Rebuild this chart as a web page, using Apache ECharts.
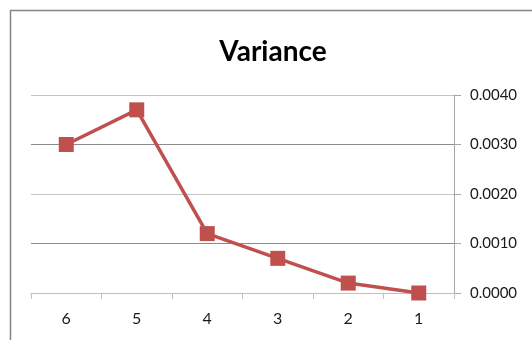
<!DOCTYPE html>
<html>
<head>
<meta charset="utf-8">
<script src="https://cdn.jsdelivr.net/npm/echarts@6/dist/echarts.min.js"></script>
<style>
  html, body { margin: 0; padding: 0; background: #fff; }
  #chart { width: 532px; height: 340px; }
</style>
</head>
<body>
<div id="chart"></div>
<script>
// Variance by category, plotted right-to-left from 6 down to 1
const categories = ['6', '5', '4', '3', '2', '1'];
const variance = [0.0030, 0.0037, 0.0012, 0.0007, 0.0002, 0.0000];
const yTicks = [0, 0.001, 0.002, 0.003, 0.004];

const chart = echarts.init(document.getElementById('chart'), null, { renderer: 'canvas' });
const font = 'Lato, "Open Sans", sans-serif';

chart.setOption({
  animation: false,
  backgroundColor: '#fff',
  title: {
    text: 'Variance',
    left: 268,
    top: 33,
    textAlign: 'center',
    textStyle: { fontFamily: font, fontWeight: 'bold', fontSize: 28, color: '#000' }
  },
  graphic: [{
    type: 'rect',
    shape: { x: 10.5, y: 10.5, width: 600, height: 400 },
    style: { fill: 'none', stroke: '#858585', lineWidth: 1.5 },
    silent: true
  }],
  grid: { left: 31, right: 78, top: 95, bottom: 47 },
  xAxis: {
    type: 'category',
    data: categories,
    boundaryGap: true,
    axisLine: { lineStyle: { color: '#bfbfbf', width: 1 } },
    axisTick: { show: true, length: 6, lineStyle: { color: '#bfbfbf' } },
    axisLabel: { fontFamily: font, fontSize: 16, color: '#1a1a1a', margin: 18 },
    splitLine: { show: false }
  },
  yAxis: {
    type: 'value',
    position: 'right',
    min: yTicks[0],
    max: yTicks[yTicks.length - 1],
    interval: 0.001,
    axisLine: { show: true, lineStyle: { color: '#a6a6a6', width: 1 } },
    axisTick: { show: true, length: 7, lineStyle: { color: '#a6a6a6' } },
    axisLabel: {
      fontFamily: font, fontSize: 15, color: '#1a1a1a', margin: 16,
      formatter: v => v.toFixed(4)
    },
    splitLine: {
      show: true,
      lineStyle: { color: ['#c4c4c4', '#8c8c8c', '#c4c4c4', '#8c8c8c', '#c4c4c4'], width: 1 }
    }
  },
  series: [{
    type: 'line',
    data: variance,
    symbol: 'rect',
    symbolSize: 15,
    lineStyle: { color: '#c0504d', width: 3.5 },
    itemStyle: { color: '#c0504d' }
  }]
});
</script>
</body>
</html>
